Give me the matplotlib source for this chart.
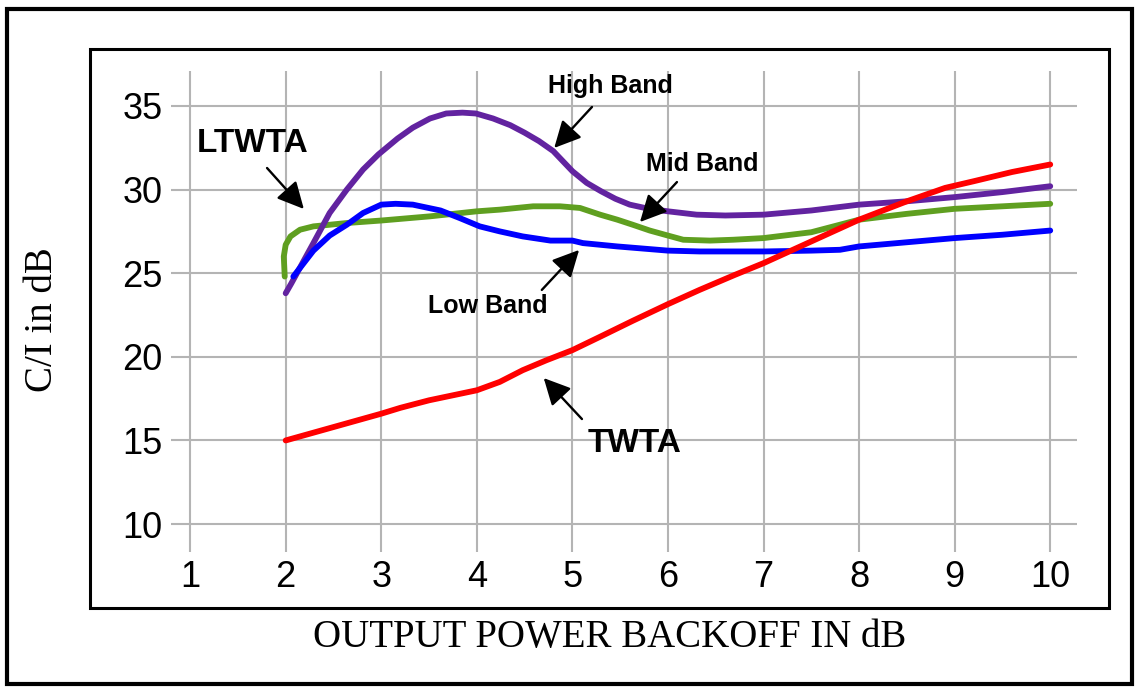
import matplotlib
matplotlib.use("Agg")
import matplotlib.pyplot as plt
from matplotlib.patches import Rectangle

# data
twta_x = [2, 2.5, 3, 3.2, 3.5, 4, 4.24, 4.48, 4.73, 5, 5.29, 5.63, 6, 6.33, 6.7, 7, 7.5, 8, 8.5, 8.9, 9.2, 9.6, 10]
twta_y = [15.0, 15.8, 16.6, 16.95, 17.4, 18.0, 18.5, 19.2, 19.8, 20.4, 21.2, 22.15, 23.15, 24.0, 24.9, 25.6, 26.9, 28.2, 29.3, 30.1, 30.5, 31.05, 31.5]

high_x = [2, 2.06, 2.29, 2.46, 2.64, 2.81, 2.97, 3.17, 3.33, 3.51, 3.68, 3.85, 3.99, 4.17, 4.35, 4.5, 4.65, 4.8, 4.9, 5.0,
          5.15, 5.3, 5.45, 5.6, 5.8, 6.0, 6.3, 6.6, 7, 7.5, 8, 8.5, 9, 9.5, 10]
high_y = [23.8, 24.4, 26.8, 28.6, 30.0, 31.2, 32.1, 33.05, 33.7, 34.25, 34.55, 34.6, 34.55, 34.25, 33.85, 33.4, 32.9, 32.3, 31.7, 31.1,
          30.4, 29.9, 29.45, 29.1, 28.85, 28.7, 28.5, 28.45, 28.5, 28.75, 29.1, 29.3, 29.55, 29.85, 30.2]

low_x = [2.08, 2.29, 2.46, 2.64, 2.81, 3.0, 3.15, 3.33, 3.62, 3.82, 4.03, 4.24, 4.48, 4.77, 5.0, 5.11, 5.47, 6, 6.33,
         7, 7.5, 7.8, 8, 8.5, 9, 9.5, 10]
low_y = [24.8, 26.35, 27.25, 27.9, 28.6, 29.1, 29.15, 29.1, 28.75, 28.3, 27.8, 27.5, 27.2, 26.95, 26.95, 26.8, 26.6, 26.35, 26.3,
         26.3, 26.35, 26.4, 26.6, 26.85, 27.1, 27.3, 27.55]

mid_x = [1.99, 1.98, 2.0, 2.05, 2.15, 2.29, 2.64, 3.0, 3.51, 4.0, 4.24, 4.59, 4.87, 5.08, 5.29, 5.47, 5.63, 5.81, 6, 6.16,
         6.44, 6.68, 7, 7.5, 8, 8.5, 9, 9.5, 10]
mid_y = [24.8, 26.0, 26.7, 27.2, 27.6, 27.8, 28.0, 28.15, 28.4, 28.7, 28.8, 29.0, 29.0, 28.9, 28.5, 28.2, 27.9, 27.55, 27.25, 27.0,
         26.95, 27.0, 27.1, 27.45, 28.2, 28.55, 28.85, 29.0, 29.15]

x_ticks = [1, 2, 3, 4, 5, 6, 7, 8, 9, 10]
y_ticks = [10, 15, 20, 25, 30, 35]

W, H = 1137, 689
fig = plt.figure(figsize=(W / 100, H / 100), dpi=100)

# axes placed in pixels: grid spans x 171..1077, y 71..552
ax = fig.add_axes([171 / W, 1 - 552 / H, (1077 - 171) / W, (552 - 71) / H])
ax.set_xlim(0.8, 10.28)
ax.set_ylim(8.33, 37.09)
for s in ax.spines.values():
    s.set_visible(False)
ax.set_xticks(x_ticks)
ax.set_yticks(y_ticks)
ax.tick_params(length=0, labelsize=26, pad=6)
for lab in ax.get_xticklabels() + ax.get_yticklabels():
    lab.set_family("Liberation Sans")
ax.grid(True, color="#b4b4b4", lw=1.5)
ax.set_axisbelow(True)

lw = 4.2
style = dict(lw=lw, solid_capstyle="round", solid_joinstyle="round")
ax.plot(mid_x, mid_y, color="#5f9f20", **style)
ax.plot(high_x, high_y, color="#6223a0", **style)
ax.plot(low_x, low_y, color="#0000ff", **style)
ax.plot(twta_x, twta_y, color="#ff0000", **style)

# labels and arrows
lab_font = dict(family="Liberation Sans", weight="bold", ha="center", va="baseline")
ax.text(1.65, 32.25, "LTWTA", fontsize=24, **lab_font)
ax.text(5.40, 35.78, "High Band", fontsize=18, **lab_font)
ax.text(6.36, 31.11, "Mid Band", fontsize=18, **lab_font)
ax.text(4.12, 22.64, "Low Band", fontsize=18, **lab_font)
ax.text(5.65, 14.32, "TWTA", fontsize=24, **lab_font)

arrows = [
    ((1.805, 31.29), (2.19, 28.84)),
    ((5.205, 34.94), (4.81, 32.49)),
    ((6.094, 30.45), (5.707, 28.06)),
    ((4.68, 24.0), (5.07, 26.39)),
    ((5.10, 16.28), (4.70, 18.73)),
]
for tail, head in arrows:
    ax.annotate("", xy=head, xytext=tail,
                arrowprops=dict(arrowstyle="-|>,head_length=0.9,head_width=0.45",
                                color="black", lw=1.7, shrinkA=0, shrinkB=0,
                                mutation_scale=18))

# axis titles
fig.text(610 / W, 1 - 637 / H, "OUTPUT POWER BACKOFF IN dB", family="Liberation Serif",
         fontsize=28, ha="center", va="center")
fig.text(43 / W, 1 - 320 / H, "C/I in dB", family="Liberation Serif",
         fontsize=28, ha="center", va="center", rotation=90)

# frames
def frame(x0, y0, x1, y1, width):
    fig.add_artist(Rectangle((x0 / W, 1 - y1 / H), (x1 - x0) / W, (y1 - y0) / H,
                             transform=fig.transFigure, fill=False, ec="black", lw=width))

frame(6.5, 9, 1132, 684, 3.0)
frame(89.5, 48.5, 1109, 607.5, 2.2)

fig.savefig("out.png", dpi=100)
